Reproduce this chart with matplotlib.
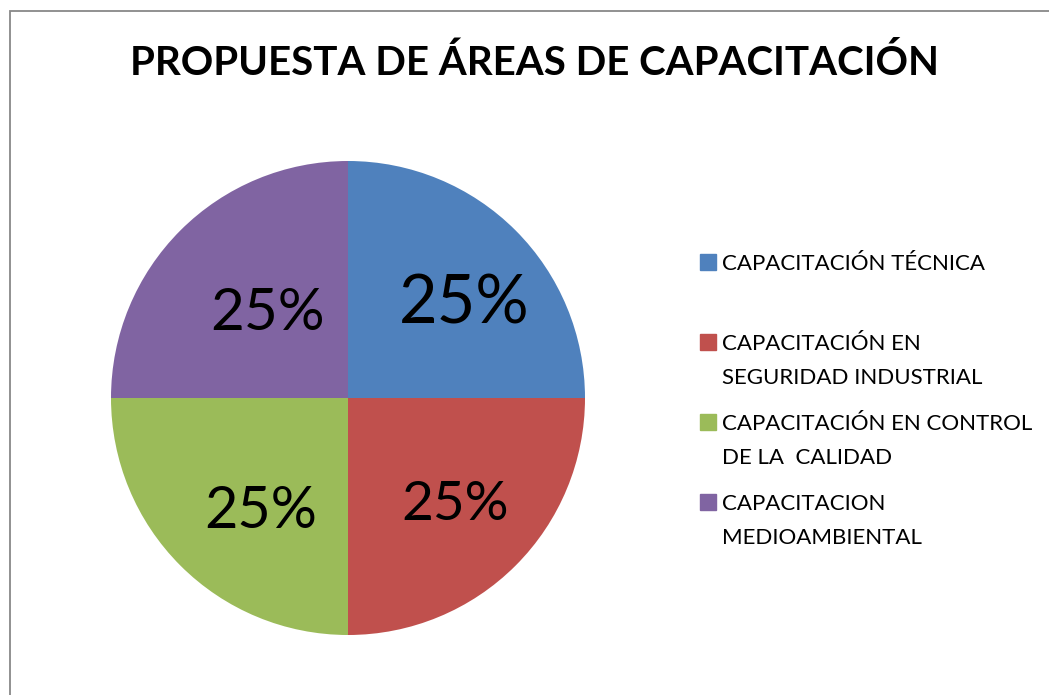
import matplotlib
matplotlib.use("Agg")
import matplotlib.pyplot as plt
from matplotlib.patches import Rectangle

plt.rcParams["font.family"] = ["Lato", "DejaVu Sans"]

# data
categories = [
    "CAPACITACIÓN TÉCNICA",
    "CAPACITACIÓN EN\nSEGURIDAD INDUSTRIAL",
    "CAPACITACIÓN EN CONTROL\nDE LA  CALIDAD",
    "CAPACITACION\nMEDIOAMBIENTAL",
]
shares = [25, 25, 25, 25]
colors = ["#4F81BD", "#C0504D", "#9BBB59", "#8064A2"]
title = "PROPUESTA DE ÁREAS DE CAPACITACIÓN"

W, H = 1049, 695
fig = plt.figure(figsize=(W / 100, H / 100), dpi=100)

# outer chart border (right/bottom edges fall outside the crop)
fig.patches.append(Rectangle((9.5 / W, -0.1), 1.2, (H - 11.5) / H + 0.1,
                             transform=fig.transFigure, fill=False,
                             edgecolor="#888888", linewidth=1.3))

cx, cy, r = 348, 398, 237
ax = fig.add_axes([(cx - r) / W, (H - cy - r) / H, 2 * r / W, 2 * r / H])
wedges, texts, autotexts = ax.pie(
    shares, colors=colors, startangle=90, counterclock=False,
    autopct=lambda p: f"{p:.0f}%", pctdistance=0.62,
    wedgeprops=dict(linewidth=0),
)
ax.set_xlim(-1, 1)
ax.set_ylim(-1, 1)
ax.set_aspect("equal")

# label sizes / nudges as in the original
sizes = [48, 39.5, 41.5, 42]
nudges = [(0.05, -0.045), (0.013, -0.01), (0.07, -0.04), (0.10, -0.08)]
for t, s, (dx, dy) in zip(autotexts, sizes, nudges):
    x, y = t.get_position()
    t.set_position((x + dx, y + dy))
    t.set_fontsize(s)
    t.set_color("black")

fig.text(535 / W, 1 - 63 / H, title, ha="center", va="center",
         fontsize=29, fontweight="bold")

# legend, drawn by hand so multi-line entries are top-aligned
y0 = 262
step = 80
for i, (lab, col) in enumerate(zip(categories, colors)):
    y = y0 + i * step
    fig.patches.append(Rectangle((700 / W, 1 - (y + 8) / H), 16 / W, 16 / H,
                                 transform=fig.transFigure, color=col))
    fig.text(722 / W, 1 - (y - 8) / H, lab, ha="left", va="top",
             fontsize=16, linespacing=1.85)

fig.savefig("out.png", dpi=100)
